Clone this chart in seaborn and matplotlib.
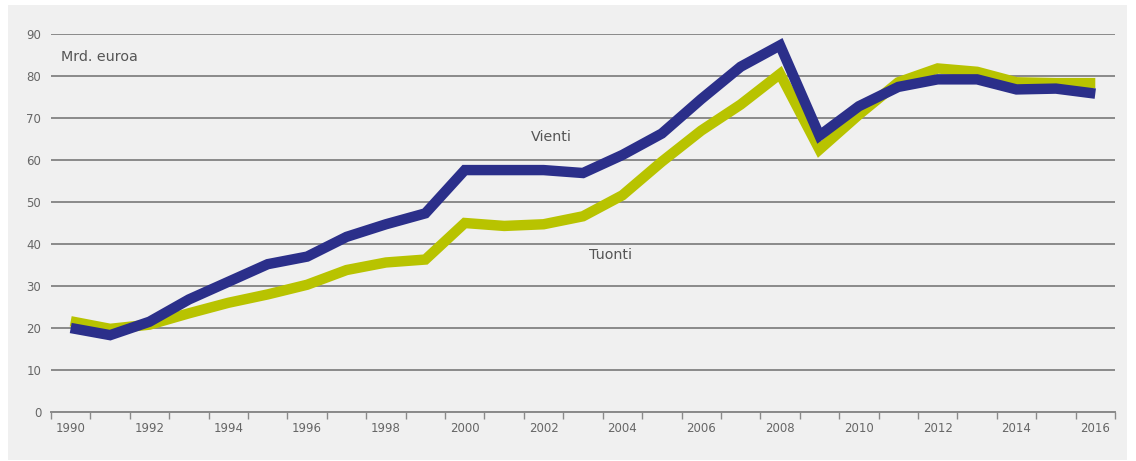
import matplotlib
matplotlib.use("Agg")
import matplotlib.pyplot as plt
import seaborn as sns
import pandas as pd
import numpy as np
from matplotlib.patches import Rectangle

years = list(range(1990, 2017))
vienti = [20.0, 18.3, 21.5, 26.8, 31.0, 35.2, 37.0, 41.7, 44.7, 47.3, 57.6, 57.6, 57.6, 56.9,
          61.2, 66.3, 74.5, 82.2, 87.3, 65.8, 72.8, 77.4, 79.2, 79.2, 76.8, 77.0, 75.8]
tuonti = [21.6, 19.8, 20.8, 23.5, 26.0, 28.0, 30.3, 33.8, 35.6, 36.3, 45.0, 44.3, 44.7, 46.6,
          51.6, 59.6, 67.0, 73.2, 80.5, 62.5, 70.8, 78.5, 81.8, 81.0, 78.5, 78.3, 78.3]
tick_years = list(range(1990, 2017, 2))
yticks = list(range(0, 100, 10))

sns.set_theme(style="white")
plt.rcParams['font.family'] = ['DejaVu Sans']

W, H = 1136, 461
fig = plt.figure(figsize=(W / 100, H / 100), dpi=100)
fig.patch.set_facecolor("white")
bg = "#f0f0f0"
fig.patches.append(Rectangle((8 / W, 1 - 460 / H), (1127 - 8) / W, (460 - 5) / H,
                             transform=fig.transFigure, facecolor=bg, edgecolor="none", zorder=-10))

left, right = 51 / W, 1115 / W
bottom, top = 1 - 412 / H, 1 - 34 / H
ax = fig.add_axes([left, bottom, right - left, top - bottom])
ax.set_zorder(5)
ax.set_facecolor(bg)

df = pd.DataFrame({"year": years, "Vienti": vienti, "Tuonti": tuonti})
sns.lineplot(data=df, x="year", y="Tuonti", color="#b8c300", linewidth=7.5, ax=ax,
             solid_joinstyle="miter", solid_capstyle="butt")
sns.lineplot(data=df, x="year", y="Vienti", color="#2b2f8a", linewidth=7.5, ax=ax,
             solid_joinstyle="miter", solid_capstyle="butt")
for ln in ax.get_lines():
    ln.set_clip_on(False)
    ln.set_zorder(3)

ax.set_xlim(1989.5, 2016.5)
ax.set_ylim(0, 90)
ax.set_yticks(yticks)
ax.set_yticklabels([str(v) for v in yticks])
ax.set_xticks(tick_years)
ax.set_xticklabels([str(y) for y in tick_years])
ax.set_xticks(np.arange(1989.5, 2017, 1.0), minor=True)
ax.grid(axis="y", color="#8a8a8a", linewidth=1.4, zorder=1)
ax.set_axisbelow(True)
for s in ["top", "right", "left"]:
    ax.spines[s].set_visible(False)
ax.spines["bottom"].set_color("#8a8a8a")
ax.spines["bottom"].set_linewidth(1.4)
ax.tick_params(axis="x", which="major", length=0, pad=7, labelsize=8.5, labelcolor="#666666")
ax.tick_params(axis="x", which="minor", length=5, width=1, color="#8a8a8a", direction="out")
ax.tick_params(axis="y", length=3, width=1, color="#8a8a8a", pad=4, labelsize=8.5, labelcolor="#666666")
ax.tick_params(bottom=True, which="both")
ax.set_xlabel("")
ax.set_ylabel("")

ax.text(1989.75, 84.5, "Mrd. euroa", fontsize=10.3, color="#555555", ha="left", va="center")
ax.text(2002.2, 65.5, "Vienti", fontsize=10.3, color="#555555", ha="center", va="center")
ax.text(2003.7, 37.4, "Tuonti", fontsize=10.3, color="#555555", ha="center", va="center")

fig.savefig("out.png", dpi=100, facecolor=fig.get_facecolor())
